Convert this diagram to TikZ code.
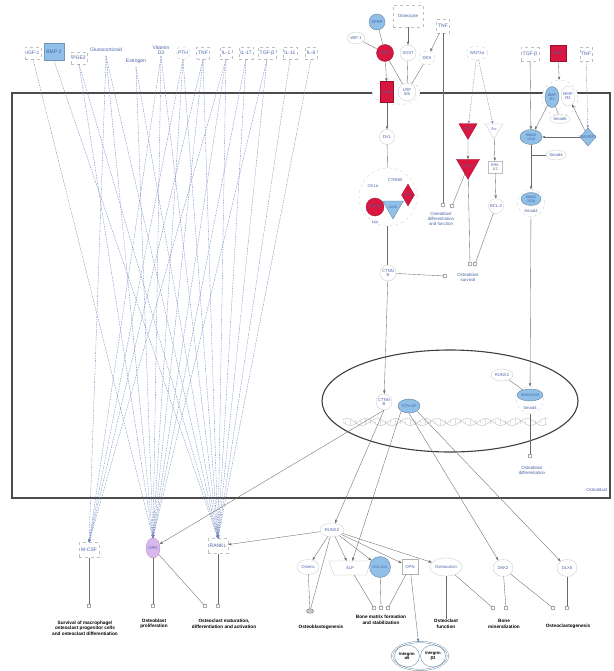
\documentclass[tikz,border=0pt]{standalone}
\usepackage{fontspec}
\setmainfont{Liberation Sans}
\usetikzlibrary{arrows.meta,shapes.geometric}
\definecolor{ipared}{HTML}{D9163F}
\definecolor{ipablue}{HTML}{90BFE8}
\definecolor{ipatext}{HTML}{4A64A8}
\definecolor{dashblue}{HTML}{6F86BC}
\definecolor{edgegray}{HTML}{6A6A6A}
\definecolor{opgviolet}{HTML}{D9B8EE}
\begin{document}
\begin{tikzpicture}[x=1pt,y=-1pt]
\tikzset{
  gene/.style={draw=gray!45, line width=0.3pt, ellipse, inner sep=0.5pt, minimum width=17pt, minimum height=15pt, text=ipatext, align=center, font=\fontsize{4.2}{4.6}\selectfont},
  lig/.style={draw=gray!50, dashed, line width=0.3pt, rectangle, inner sep=1.5pt, minimum height=12pt, text=ipatext, align=center, font=\fontsize{5}{5.5}\selectfont},
  gtext/.style={text=ipatext, align=center, inner sep=0.5pt, font=\fontsize{4.2}{4.6}\selectfont},
  redfill/.style={fill=ipared, draw=ipared!70!black, line width=0.3pt},
  bluefill/.style={fill=ipablue, draw=ipablue!60!black, line width=0.3pt},
  pheno/.style={circle, draw=black!70, line width=0.35pt, minimum size=4pt, inner sep=0pt, fill=white},
  plab/.style={font=\fontsize{4.7}{5.4}\selectfont\bfseries, align=center, text=black, inner sep=0.5pt},
  intlab/.style={font=\fontsize{4.4}{5}\selectfont, align=center, text=ipatext, inner sep=0.5pt},
  arr/.style={draw=edgegray, line width=0.35pt, -{Stealth[length=3.5pt,width=2.6pt]}},
  ln/.style={draw=edgegray, line width=0.35pt},
  darr/.style={draw=dashblue, line width=0.35pt, dash pattern=on 1.6pt off 1pt, -{Stealth[length=3pt,width=2.4pt]}},
  cplx/.style={draw=gray!40, dashed, line width=0.3pt, fill=white},
}
\useasboundingbox (0,0) rectangle (613,671);
\fill[white] (0,0) rectangle (613,671);

% ---------- cell and nucleus ----------
\draw[line width=1.5pt, draw=black!70] (12,93) rectangle (610,498);
\node[intlab, anchor=east] (celllab) at (608,490) {Osteoblast};
\draw[line width=1.1pt, black!75] (450,401) ellipse [x radius=128pt, y radius=51pt];
\foreach \i in {345,350,...,545}
  \draw[gray!25, line width=0.3pt] (\i,{422+3.5*sin(12*(\i-343))}) -- (\i,{422-3.5*sin(12*(\i-343))});
\draw[gray!45, line width=0.5pt] plot[domain=343:547, samples=200] (\x,{422+3.5*sin(12*(\x-343))});
\draw[gray!45, line width=0.5pt] plot[domain=343:547, samples=200] (\x,{422-3.5*sin(12*(\x-343)+40)});

% ---------- ligands (top left) ----------
\node[lig] (igf) at (33,53) {IGF-1};
\node[lig, fill=ipablue, draw=ipablue!80!black, solid, minimum width=20pt, minimum height=17pt] (bmpii) at (54,52) {BMP-2};
\node[lig] (pge) at (79,58) {PGE2};
\node[lig, draw=none] (gluc) at (106,50) {Glucocorticoid};
\node[lig, draw=none] (estr) at (136,61) {Estrogen};
\node[lig, draw=none] (vitd) at (161,50) {Vitamin\\D3};
\node[lig, rounded corners=4pt] (pth) at (183,53) {PTH};
\node[lig] (tnfa) at (203,53) {TNF};
\node[lig] (ilone) at (226,53) {IL-1};
\node[lig] (ilsev) at (246,53) {IL-17};
\node[lig] (tgfa) at (267,53) {TGF-β};
\node[lig] (ilele) at (290,53) {IL-11};
\node[lig] (ilsix) at (311,53) {IL-6};

% ---------- bottom targets ----------
\node[lig, minimum width=20pt, minimum height=15pt] (mcsf) at (89,550) {M-CSF};
\node[ellipse, fill=opgviolet, draw=violet!50, line width=0.3pt, minimum width=14pt, minimum height=20pt, inner sep=0pt, text=ipatext, font=\fontsize{4.2}{4.6}\selectfont] (opg) at (153,548) {OPG};
\node[lig, minimum width=20pt, minimum height=15pt] (rankl) at (218,546) {RANKL};

\foreach \s/\t in {igf/opg, bmpii/rankl, pge/opg, pge/rankl, gluc/mcsf, gluc/opg, gluc/rankl, estr/opg, estr/rankl, vitd/mcsf, vitd/opg, vitd/rankl, pth/mcsf, pth/opg, pth/rankl, tnfa/mcsf, tnfa/opg, tnfa/rankl, ilone/mcsf, ilone/opg, ilone/rankl, ilsev/opg, ilsev/rankl, tgfa/opg, tgfa/rankl, ilele/rankl, ilsix/rankl}
  \draw[darr] (\s.south) -- (\t.north);

% ---------- WNT / beta-catenin branch ----------
\node[gene, circle, bluefill, minimum size=16pt] (sfrp) at (377,22) {SFRP};
\node[lig, minimum width=30pt, minimum height=22pt, font=\fontsize{4.5}{5}\selectfont] (ocyte) at (408,16) {Osteocyte};
\node[lig, minimum height=14pt] (tnfb) at (443,26) {TNF};
\node[gene, minimum width=16pt, minimum height=12pt] (wif) at (356,38) {WIF-1};
\node[gene, circle, redfill, minimum size=17pt] (wnt) at (385,53) {WNT};
\node[gene, circle, minimum size=16pt] (sost) at (408,53) {SOST};
\node[gene, dashed, minimum width=16pt, minimum height=14pt] (dkk) at (427,58) {DKK};
\node[cplx, ellipse, minimum width=48pt, minimum height=26pt] (rcx) at (396,92) {};
\node[rectangle, redfill, minimum width=13pt, minimum height=21pt, inner sep=0pt, text=ipatext, font=\fontsize{3.4}{3.8}\selectfont] (fzd) at (387,92) {Frizzled};
\node[gene, circle, minimum size=18pt] (lrp) at (407,92) {LRP\\5/6};
\node[gene, circle, minimum size=15pt] (dvl) at (387,137) {DVL};
\node[cplx, circle, minimum size=58pt] (dcx) at (388,197) {};
\node[gtext] (ck) at (373,186) {CK1α};
\node[gtext] (ctnnbi) at (395,180) {CTNNB};
\node[circle, redfill, minimum size=18pt, inner sep=0pt, text=ipatext, font=\fontsize{3.6}{4}\selectfont] (gsk) at (375,207) {GSK3β};
\node[regular polygon, regular polygon sides=3, shape border rotate=180, bluefill, minimum size=19pt, inner sep=0pt, text=ipatext, font=\fontsize{3.6}{4}\selectfont] (axin) at (393,207) {AXIN};
\node[diamond, redfill, minimum width=13pt, minimum height=22pt, inner sep=0pt, text=ipatext, font=\fontsize{3.6}{4}\selectfont] (apc) at (408,195) {APC};
\node[gtext] (lrplab) at (375,222) {Lrp};
\node[gene, circle, minimum size=16pt] (ctnnb) at (388,273) {CTNN\\B};

\draw[ln] (sfrp) -- (wnt);
\draw[ln] (wif) -- (wnt);
\draw[arr] (ocyte) -- (sost);
\draw[arr] (tnfb) -- (dkk);
\draw[arr] (wnt) -- (fzd);
\draw[ln] (wnt) -- (lrp);
\draw[ln] (sost) -- (lrp);
\draw[ln] (dkk) -- (lrp);
\draw[arr] (fzd) -- (dvl);
\draw[ln] (dvl) -- (dcx);
\draw[ln, double, double distance=0.6pt] (dcx) -- (ctnnb);

% WNT3a branch
\node[gene, dashed, minimum width=20pt, minimum height=14pt] (wntiii) at (477,53) {WNT3a};
\node[regular polygon, regular polygon sides=3, shape border rotate=180, redfill, minimum size=21pt, inner sep=0pt, text=ipatext, font=\fontsize{3.6}{4}\selectfont] (gq) at (468,129) {Gαq};
\node[regular polygon, regular polygon sides=3, shape border rotate=180, draw=gray!50, line width=0.3pt, minimum size=20pt, inner sep=0pt, text=ipatext, font=\fontsize{3.8}{4}\selectfont] (src) at (494,129) {Src};
\node[regular polygon, regular polygon sides=3, shape border rotate=180, redfill, minimum size=21pt, inner sep=0pt, text=ipatext, font=\fontsize{3.6}{4}\selectfont] (pkc) at (468,166) {PKCδ};
\node[rectangle, draw=gray!50, line width=0.3pt, minimum width=14pt, minimum height=12pt, inner sep=0.5pt, text=ipatext, align=center, font=\fontsize{3.8}{4.2}\selectfont] (erk) at (495,167) {ERK\\1/2};
\node[gene, circle, minimum size=15pt] (bcl) at (496,206) {BCL-2};
\draw[darr] (wntiii) -- (gq);
\draw[darr] (wntiii) -- (src);
\draw[arr] (gq) -- (pkc);
\draw[arr] (src) -- (erk);
\draw[arr] (erk) -- (bcl);

% phenotype circles inside cell
\node[pheno] (odfa) at (443,205) {};
\node[pheno] (odfb) at (452,206) {};
\node[intlab] (odflab) at (441,219) {Osteoblast\\differentiation\\and function};
\node[pheno] (sva) at (445,276) {};
\node[pheno] (svb) at (470,264) {};
\node[pheno] (svc) at (475,264) {};
\node[intlab] (svlab) at (468,277) {Osteoblast\\survival};
\draw[ln] (tnfb) -- (odfa);
\draw[ln] (pkc) -- (odfb);
\draw[ln] (pkc) -- (svb);
\draw[ln] (bcl) -- (svc);
\draw[ln] (ctnnb) -- (sva);

% ---------- BMP / TGF branch ----------
\node[lig, minimum height=14pt] (tgfb) at (530,54) {TGF-β};
\node[rectangle, redfill, minimum size=16pt, inner sep=0pt, text=ipatext, font=\fontsize{4}{4.4}\selectfont] (bmp) at (558,53) {BMP};
\node[lig, minimum height=14pt] (tnfc) at (586,54) {TNF};
\node[cplx, circle, minimum size=36pt] (bcx) at (560,98) {};
\node[ellipse, bluefill, minimum width=14pt, minimum height=21pt, inner sep=0pt, text=ipatext, align=center, font=\fontsize{3.8}{4.2}\selectfont] (bmpri) at (552,97) {BMP\\R1};
\node[gene, minimum width=14pt, minimum height=20pt, inner sep=0pt] (bmprii) at (568,96) {BMP\\R2};
\node[gene, minimum width=17pt, minimum height=9pt] (smadvi) at (560,119) {Smad6};
\node[diamond, bluefill, minimum width=16pt, minimum height=18pt, inner sep=0pt] (smurf) at (588,137) {};
\node[gtext] (smurflab) at (588,137) {SMURF1};
\node[ellipse, bluefill, minimum width=22pt, minimum height=15pt, inner sep=0pt, text=ipatext, align=center, font=\fontsize{3.6}{4}\selectfont] (smadc) at (531,137) {SMAD\\1/5/8};
\node[gene, minimum width=18pt, minimum height=10pt] (smadiv) at (556,155) {Smad4};
\node[cplx, circle, minimum size=27pt] (scx) at (531,203) {};
\node[ellipse, bluefill, minimum width=20pt, minimum height=13pt, inner sep=0pt, text=ipatext, align=center, font=\fontsize{3.6}{4}\selectfont] (smadcx) at (531,199) {SMAD\\1/5/8};
\node[gtext] (smadcxiv) at (531,211) {Smad4};

\draw[arr] (tgfb) -- (smadc);
\draw[arr] (bmp) -- (bcx);
\draw[darr] (tnfc) -- (smurf);
\draw[arr] (bmpri) -- (smadc);
\draw[arr] (smurf) -- (bmprii);
\draw[arr] (smurf) -- (smadc);
\draw[ln] (smadvi) -- (bmpri);
\draw[ln] (smadiv.west) -- (smadiv.west -| smadc.south);
\draw[arr] (smadc) -- (scx);

% ---------- nucleus ----------
\node[gene, circle, minimum size=16pt, fill=white] (ctnnbn) at (384,402) {CTNN\\B};
\node[ellipse, bluefill, minimum width=22pt, minimum height=14pt, inner sep=0pt, text=ipatext, font=\fontsize{3.8}{4.2}\selectfont] (tcf) at (409,406) {TCF/LEF};
\node[gene, fill=white, minimum width=22pt, minimum height=12pt] (runxn) at (502,375) {RUNX2};
\node[cplx, circle, minimum size=27pt] (nsx) at (530,400) {};
\node[ellipse, bluefill, minimum width=26pt, minimum height=12pt, inner sep=0pt, text=ipatext, font=\fontsize{3.6}{4}\selectfont] (nsmad) at (530,395) {SMAD1/5/8};
\node[gtext] (nsmadiv) at (530,408) {Smad4};
\node[pheno] (odc) at (530,456) {};
\node[intlab] (odlab) at (532,470) {Osteoblast\\differentiation};

\draw[arr] (ctnnb) -- (ctnnbn);
\draw[arr] (scx) -- (nsx);
\draw[ln] (runxn) -- (nsmad);
\draw[ln] (nsx) -- (odc);

% ---------- bottom genes ----------
\node[gene, minimum width=24pt, minimum height=14pt] (runx) at (332,530) {RUNX2};
\node[gene, minimum width=22pt, minimum height=15pt] (osx) at (308,567) {Osterix};
\node[trapezium, trapezium angle=70, draw=gray!50, line width=0.3pt, minimum width=16pt, minimum height=14pt, inner sep=0.5pt, text=ipatext, font=\fontsize{4.2}{4.6}\selectfont, shape border rotate=180] (alp) at (350,568) {ALP};
\node[circle, bluefill, minimum size=21pt, inner sep=0pt, text=ipatext, font=\fontsize{3.8}{4.2}\selectfont] (col) at (380,567) {COL1A1};
\node[rectangle, draw=gray!60, line width=0.3pt, minimum width=16pt, minimum height=15pt, inner sep=0.5pt, text=ipatext, font=\fontsize{4.2}{4.6}\selectfont] (opn) at (410,567) {OPN};
\node[gene, minimum width=26pt, minimum height=18pt] (ocn) at (446,567) {Osteocalcin};
\node[gene, minimum width=20pt, minimum height=17pt] (dkkii) at (503,568) {DKK2};
\node[gene, minimum width=20pt, minimum height=17pt] (dlx) at (567,568) {DLX5};

\draw[arr] (ctnnbn.south) -- (opg);
\draw[arr] (ctnnbn.south) -- (runx);
\draw[arr] (tcf.south west) -- (alp);
\draw[arr] (tcf.south) -- (dkkii);
\draw[arr] (tcf.south east) -- (dlx);
\draw[arr] (runx) -- (rankl);
\draw[arr] (runx) -- (osx);
\draw[arr] (runx) -- (alp);
\draw[arr] (runx) -- (col);
\draw[arr] (runx) -- (opn);
\draw[arr] (runx) -- (ocn);

% ---------- phenotypes ----------
\node[pheno] (pa) at (89,606) {};
\node[pheno] (pb) at (153,606) {};
\node[pheno] (pc) at (205,606) {};
\node[pheno] (pd) at (218,606) {};
\node[ellipse, draw=black!60, fill=gray!40, line width=0.35pt, minimum width=7pt, minimum height=4.5pt, inner sep=0pt] (pe) at (310,611) {};
\node[pheno] (pf) at (374,608) {};
\node[pheno] (pg) at (381,608) {};
\node[pheno] (ph) at (388,608) {};
\node[pheno] (pi) at (493,608) {};
\node[pheno] (pj) at (506,608) {};
\node[pheno] (pk) at (553,608) {};
\node[pheno] (pl) at (567,608) {};

\node[plab] (la) at (85,628) {Survival of macrophage/\\osteoclast progenitor cells\\and osteoclast differentiation};
\node[plab] (lb) at (154,624) {Osteoblast\\proliferation};
\node[plab] (lc) at (224,624) {Osteoclast maturation,\\differentiation and activation};
\node[plab] (ld) at (321,627) {Osteoblastogenesis};
\node[plab] (le) at (381,620) {Bone matrix formation\\and stabilization};
\node[plab] (lf) at (446,624) {Osteoclast\\function};
\node[plab] (lg) at (504,624) {Bone\\mineralization};
\node[plab] (lh) at (568,626) {Osteoclastogenesis};

\draw[ln] (mcsf) -- (pa);
\draw[ln] (opg) -- (pb);
\draw[ln] (opg) -- (pc);
\draw[ln] (rankl) -- (pd);
\draw[ln] (osx) -- (pe);
\draw[ln] (runx) -- (pe);
\draw[ln] (alp) -- (pf);
\draw[ln] (col) -- (pg);
\draw[ln] (opn) -- (ph);
\draw[ln] (ocn) -- (lf.north);
\draw[ln] (ocn) -- (pi);
\draw[ln] (dkkii) -- (pj);
\draw[ln] (dkkii) -- (pk);
\draw[ln] (dlx) -- (pl);

% ---------- integrin complex ----------
\node[ellipse, draw=ipablue!70!black, double=white, double distance=1pt, line width=0.4pt, minimum width=56pt, minimum height=28pt] (itg) at (420,656) {};
\node[ellipse, draw=ipablue!70!black, line width=0.35pt, minimum width=25pt, minimum height=22pt, inner sep=0pt, plab, font=\fontsize{4.2}{4.7}\selectfont\bfseries] (itga) at (407,656) {Integrin\\α5};
\node[ellipse, draw=ipablue!70!black, line width=0.35pt, minimum width=25pt, minimum height=22pt, inner sep=0pt, plab, font=\fontsize{4.2}{4.7}\selectfont\bfseries] (itgb) at (433,656) {Integrin\\β3};
\draw[arr, draw=ipablue!60!black] (opn) -- (itg);
\end{tikzpicture}
\end{document}
